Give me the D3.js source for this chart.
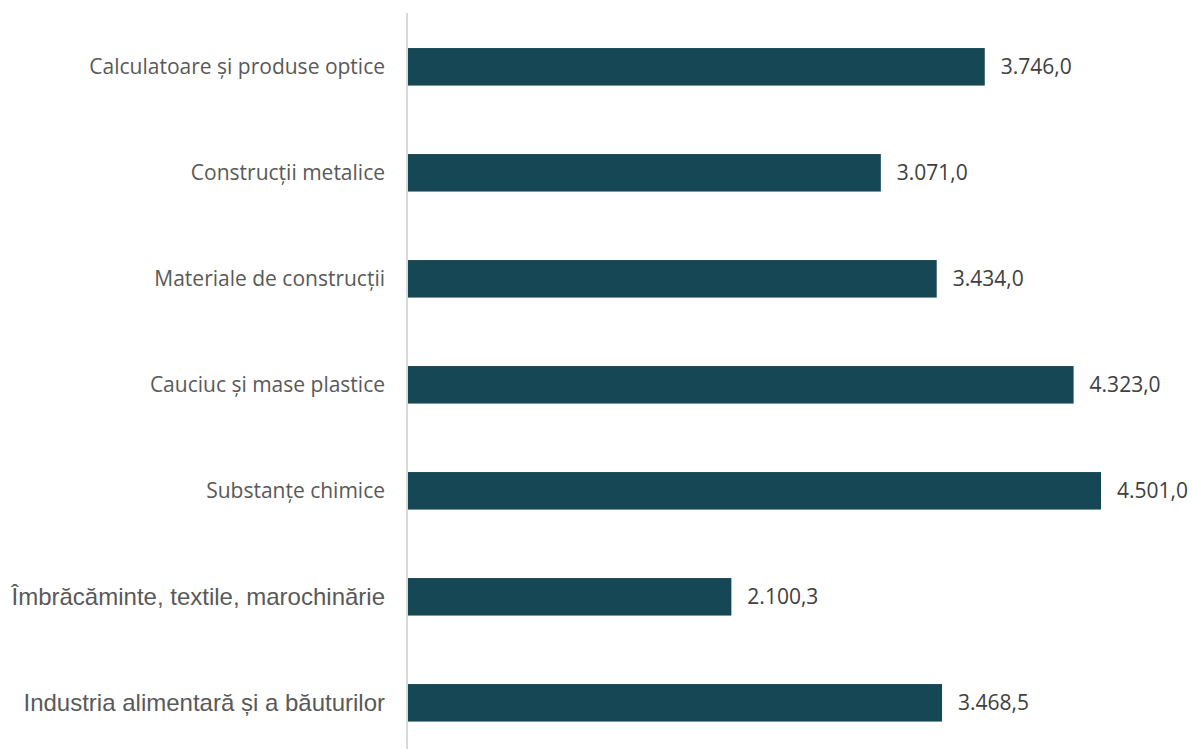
<!DOCTYPE html>
<html><head><meta charset="utf-8">
<script src="https://cdn.jsdelivr.net/npm/d3@7"></script>
<style>body{margin:0;background:#fff}svg{display:block}</style>
</head><body>
<svg id="c" width="1192" height="749"></svg>
<script>
const categories = ["Calculatoare și produse optice","Construcții metalice","Materiale de construcții","Cauciuc și mase plastice","Substanțe chimice","Îmbrăcăminte, textile, marochinărie","Industria alimentară și a băuturilor"];
const values = [3746.0, 3071.0, 3434.0, 4323.0, 4501.0, 2100.3, 3468.5];
const labels = ["3.746,0","3.071,0","3.434,0","4.323,0","4.501,0","2.100,3","3.468,5"];
// the source mixes two typefaces among category labels
const catFonts = ["open","open","open","open","open","arial","arial"];

const svg = d3.select("#c");
const x = d3.scaleLinear().domain([0, 4501]).range([408, 1101]);
const p = 0.646;
const y = d3.scaleBand().domain(categories).range([13.8, 755.8]).paddingInner(p).paddingOuter(p/2);

svg.selectAll("rect.bar").data(values).join("rect")
  .attr("class","bar")
  .attr("x", x(0))
  .attr("y", (d,i)=>y(categories[i]))
  .attr("width", d=>x(d)-x(0))
  .attr("height", y.bandwidth())
  .attr("fill", "#154854");

svg.append("line").attr("x1",407).attr("x2",407).attr("y1",13).attr("y2",749)
  .attr("stroke","#d9d9d9").attr("stroke-width",2);

svg.selectAll("text.cat").data(categories).join("text")
  .attr("class","cat")
  .attr("x", 385)
  .attr("y", d=>y(d)+y.bandwidth()/2)
  .attr("dy","0.35em")
  .attr("text-anchor","end")
  .attr("font-family",(d,i)=>catFonts[i]==="open" ? "'Open Sans', sans-serif" : "'Liberation Sans', Arial, sans-serif")
  .attr("font-size",(d,i)=>catFonts[i]==="open" ? 21 : 24)
  .attr("fill","#595959")
  .text(d=>d);

svg.selectAll("text.val").data(values).join("text")
  .attr("class","val")
  .attr("x", d=>x(d)+16)
  .attr("y", (d,i)=>y(categories[i])+y.bandwidth()/2)
  .attr("dy","0.36em")
  .attr("font-family","'Open Sans', sans-serif")
  .attr("font-size",21)
  .attr("fill","#404040")
  .text((d,i)=>labels[i]);
</script>
</body></html>
